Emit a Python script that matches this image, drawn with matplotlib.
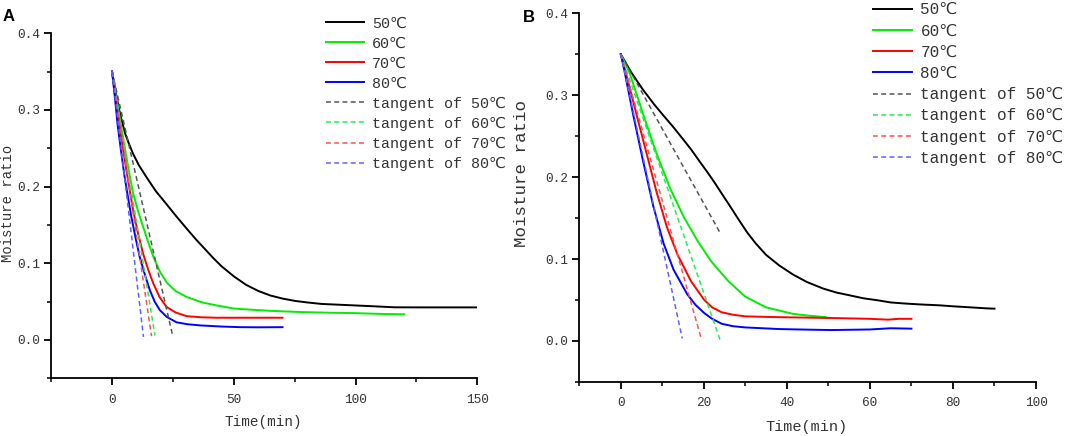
import matplotlib
matplotlib.use("Agg")
import matplotlib.pyplot as plt
from matplotlib.ticker import MultipleLocator

plt.rcParams['font.family'] = ['Liberation Mono', 'DejaVu Sans', 'Noto Sans CJK SC']

W, H = 1065, 436

# ---------------- panel A data ----------------
a_t50 = [0, 1, 2, 3, 4.4, 5.5, 6.8, 8.6, 11, 14, 18, 22.4, 26.2, 30.7, 34.5, 38.9, 41.5, 45,
         50, 55, 60, 65, 70, 75, 80, 86, 93, 100, 107, 116, 125, 135, 150]
a_v50 = [0.35, 0.332, 0.315, 0.299, 0.281, 0.268, 0.257, 0.243, 0.228, 0.213, 0.194, 0.177,
         0.162, 0.145, 0.131, 0.116, 0.107, 0.096, 0.083, 0.072, 0.064, 0.058, 0.054, 0.051,
         0.049, 0.047, 0.046, 0.045, 0.044, 0.0426, 0.0425, 0.0425, 0.0425]
a_t60 = [0, 1.5, 3, 4.4, 5.8, 7.2, 8.6, 10.6, 12.7, 14.8, 16.9, 19.5, 22.4, 26, 30.7, 37, 43,
         50, 57, 65, 77.6, 90, 100, 110, 120]
a_v60 = [0.35, 0.32, 0.293, 0.266, 0.24, 0.215, 0.192, 0.169, 0.148, 0.128, 0.109, 0.09,
         0.075, 0.064, 0.056, 0.049, 0.045, 0.041, 0.0395, 0.038, 0.0364, 0.0355, 0.035,
         0.034, 0.0335]
a_t70 = [0, 1.5, 3, 4.4, 5.8, 7.2, 8.6, 10.6, 12.7, 14.8, 16.9, 19.5, 22.4, 26, 30.7, 37, 43,
         55, 70]
a_v70 = [0.35, 0.315, 0.28, 0.251, 0.223, 0.196, 0.17, 0.14, 0.113, 0.092, 0.074, 0.056,
         0.043, 0.036, 0.031, 0.0295, 0.029, 0.029, 0.029]
a_t80 = [0, 1.2, 2.3, 3.7, 5.1, 6.5, 7.9, 9.6, 11.3, 13.4, 15.5, 17.5, 19.6, 22.5, 26.5, 31,
         36.2, 45, 52.8, 60, 70]
a_v80 = [0.35, 0.315, 0.28, 0.246, 0.214, 0.187, 0.161, 0.134, 0.109, 0.086, 0.065, 0.05,
         0.039, 0.03, 0.023, 0.0205, 0.019, 0.0175, 0.0167, 0.0165, 0.0167]
# tangent lines: start and end points
a_tan_t = [[0, 25.0], [0, 17.6], [0, 16.2], [0, 12.9]]
a_tan_v = [[0.35, 0.004], [0.35, 0.006], [0.35, 0.005], [0.35, 0.004]]

# ---------------- panel B data ----------------
b_t50 = [0, 2.5, 5.3, 8, 10.3, 12.5, 14.4, 16.9, 19, 21, 22.5, 24.3, 26.5, 28.4, 30.5, 32.5,
         35, 38.2, 41.5, 44.8, 48.7, 52, 55.3, 58.5, 61.9, 65, 68.4, 72, 76.7, 80, 84.9, 88, 90]
b_v50 = [0.35, 0.328, 0.307, 0.289, 0.275, 0.262, 0.25, 0.234, 0.219, 0.205, 0.194, 0.18,
         0.163, 0.148, 0.132, 0.119, 0.105, 0.092, 0.081, 0.072, 0.064, 0.059, 0.0555, 0.052,
         0.0496, 0.047, 0.0457, 0.0446, 0.0435, 0.0423, 0.0408, 0.0398, 0.0394]
b_t60 = [0, 2.1, 5.3, 8.6, 11.9, 15.2, 18.5, 21.8, 25.9, 30, 35, 41.5, 45, 49.5]
b_v60 = [0.35, 0.3275, 0.278, 0.229, 0.186, 0.151, 0.122, 0.097, 0.073, 0.054, 0.041,
         0.033, 0.031, 0.029]
b_t70 = [0, 1.2, 3.7, 6.2, 8.6, 11.1, 13.6, 16.9, 20.1, 22, 24.3, 27, 30, 38.2, 50.6, 60,
         64.3, 67, 70]
b_v70 = [0.35, 0.3275, 0.278, 0.229, 0.182, 0.139, 0.106, 0.073, 0.05, 0.041, 0.035, 0.032,
         0.030, 0.029, 0.028, 0.027, 0.026, 0.027, 0.027]
b_t80 = [0, 0.8, 2.9, 5.3, 7.8, 10.3, 12.7, 16, 18, 20.1, 22, 24.3, 27, 30, 38.2, 45, 50.6,
         60, 65, 70]
b_v80 = [0.35, 0.3316, 0.278, 0.221, 0.165, 0.119, 0.087, 0.057, 0.044, 0.034, 0.027, 0.021,
         0.018, 0.0165, 0.0145, 0.0138, 0.0133, 0.014, 0.0155, 0.015]
b_tan_t = [[0, 23.8], [0, 23.9], [0, 19.3], [0, 14.8]]
b_tan_v = [[0.35, 0.133], [0.35, 0.0015], [0.35, 0.004], [0.35, 0.003]]

temps = ['50℃', '60℃', '70℃', '80℃']
solid_colors = ['#000000', '#00ee00', '#ff0000', '#0000ff']
dash_colors = ['#555555', '#22ee55', '#ff5050', '#6060ff']
text_color = '#333333'

fig = plt.figure(figsize=(W / 100, H / 100), dpi=100)


def px(x0, y0, x1, y1):
    # axes rectangle from pixel box (top-left origin)
    return [x0 / W, 1 - y1 / H, (x1 - x0) / W, (y1 - y0) / H]


def style_axes(ax, xlim, xmaj, xmin, tick_size):
    ax.set_xlim(*xlim)
    ax.set_ylim(-0.05, 0.4)
    ax.xaxis.set_major_locator(MultipleLocator(xmaj))
    ax.xaxis.set_minor_locator(MultipleLocator(xmin))
    ax.yaxis.set_major_locator(MultipleLocator(0.1))
    ax.yaxis.set_minor_locator(MultipleLocator(0.05))
    ax.yaxis.set_major_formatter(plt.FuncFormatter(lambda v, p: f"{v:.1f}"))
    for s in ['top', 'right']:
        ax.spines[s].set_visible(False)
    for s in ['left', 'bottom']:
        ax.spines[s].set_linewidth(1.3)
    ax.tick_params(which='major', direction='out', length=5, width=1.3,
                   labelsize=tick_size, labelcolor=text_color, pad=3)
    ax.tick_params(axis='x', which='major', pad=6)
    ax.tick_params(which='minor', direction='out', length=3, width=1.1)


def draw(ax, curves, tan_t, tan_v, leg_size, leg_anchor, hlen, hpad, lspace):
    for (t, v), lab, c in zip(curves, temps, solid_colors):
        ax.plot(t, v, color=c, lw=1.4, label=lab)
    for t, v, lab, c in zip(tan_t, tan_v, temps, dash_colors):
        ax.plot(t, v, color=c, lw=1.1, ls=(0, (3.2, 2.2)), label='tangent of ' + lab)
    ax.legend(loc='upper left', bbox_to_anchor=leg_anchor, bbox_transform=fig.transFigure,
              frameon=False, borderpad=0, borderaxespad=0, handlelength=hlen,
              handletextpad=hpad, labelspacing=lspace, labelcolor=text_color,
              prop={'size': leg_size})


# ---------------- panel A ----------------
axA = fig.add_axes(px(51.2, 33.3, 477.3, 378.3))
style_axes(axA, (-25, 150), 50, 25, 9.2)
draw(axA, [(a_t50, a_v50), (a_t60, a_v60), (a_t70, a_v70), (a_t80, a_v80)],
     a_tan_t, a_tan_v, 10.8, (326 / W, 1 - 16.5 / H), 2.5, 0.58, 0.40)
axA.set_xlabel('Time(min)', fontsize=10.4, color=text_color, va='center')
axA.xaxis.set_label_coords(263.5 / W, 1 - 422 / H, transform=fig.transFigure)
axA.set_ylabel('Moisture ratio', fontsize=10, color=text_color, va='center')
axA.yaxis.set_label_coords(8 / W, 1 - 203 / H, transform=fig.transFigure)

# ---------------- panel B ----------------
axB = fig.add_axes(px(579.3, 13.3, 1036, 381.9))
style_axes(axB, (-10, 100), 20, 10, 9.2)
draw(axB, [(b_t50, b_v50), (b_t60, b_v60), (b_t70, b_v70), (b_t80, b_v80)],
     b_tan_t, b_tan_v, 11.5, (873.3 / W, 1 - 2.2 / H), 2.4, 0.55, 0.39)
axB.set_xlabel('Time(min)', fontsize=11, color=text_color, va='center')
axB.xaxis.set_label_coords(806.7 / W, 1 - 426.5 / H, transform=fig.transFigure)
axB.set_ylabel('Moisture ratio', fontsize=12.6, color=text_color, va='center')
axB.yaxis.set_label_coords(521.7 / W, 1 - 173.5 / H, transform=fig.transFigure)

# panel letters
fig.text(3 / W, 1 - 21 / H, 'A', family='Liberation Sans', weight='bold', fontsize=12)
fig.text(523 / W, 1 - 22 / H, 'B', family='Liberation Sans', weight='bold', fontsize=12)

fig.savefig('out.png', dpi=100)
